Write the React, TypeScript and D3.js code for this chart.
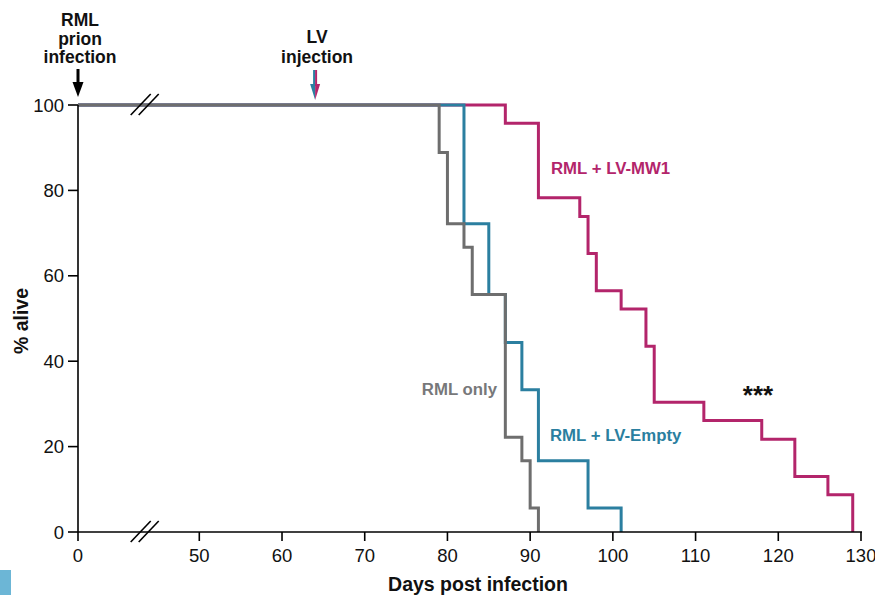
import React from "react";
import * as d3 from "d3";

const xTicks = [0, 50, 60, 70, 80, 90, 100, 110, 120, 130];
const yTicks = [0, 20, 40, 60, 80, 100];

const rmlDays = [0, 79, 80, 82, 83, 87, 89, 90, 91];
const rmlSurv = [100, 88.9, 72.2, 66.7, 55.6, 22.2, 16.7, 5.6, 0];
const emptyDays = [0, 82, 85, 87, 89, 91, 97, 101];
const emptySurv = [100, 72.2, 55.6, 44.4, 33.3, 16.7, 5.6, 0];
const mw1Days = [0, 87, 91, 96, 97, 98, 101, 104, 105, 111, 118, 122, 126, 129];
const mw1Surv = [100, 95.7, 78.3, 73.9, 65.2, 56.5, 52.2, 43.5, 30.4, 26.1, 21.7, 13.0, 8.7, 0];

const infectionDay = 0;
const lvDay = 64;
const breakDay = 27.5;

const GRAY = "#6e6e6e";
const GRAY_TXT = "#77787a";
const BLUE = "#2b7fa0";
const PINK = "#b3256b";
const FONT = "'Liberation Sans', Arial, Helvetica, sans-serif";

export default function App() {
  const x = d3.scaleLinear().domain([0, 50, 130]).range([78, 199.3, 861]);
  const y = d3.scaleLinear().domain([0, 100]).range([532, 105]);

  const line = d3
    .line<[number, number]>()
    .x((d) => x(d[0]))
    .y((d) => y(d[1]))
    .curve(d3.curveStepAfter);

  const series = [
    { days: mw1Days, surv: mw1Surv, color: PINK },
    { days: emptyDays, surv: emptySurv, color: BLUE },
    { days: rmlDays, surv: rmlSurv, color: GRAY },
  ];

  const bx = x(breakDay);
  const breakMarks = (cy: number, key: string) => (
    <g key={key} stroke="#000" strokeWidth={1.6}>
      <line x1={bx - 14} y1={cy + 10} x2={bx + 6} y2={cy - 11} />
      <line x1={bx - 6} y1={cy + 10} x2={bx + 14} y2={cy - 11} />
    </g>
  );

  const ax = x(infectionDay);
  const lx = x(lvDay);

  return (
    <svg
      width={875}
      height={595}
      style={{ position: "absolute", left: 0, top: 0, background: "#fff" }}
      fontFamily={FONT}
    >
      <rect x={0} y={570} width={11} height={25} fill="#6cb6d6" />

      {/* series */}
      {series.map((s, i) => (
        <path
          key={i}
          d={line(s.days.map((d, j) => [d, s.surv[j]] as [number, number])) || ""}
          fill="none"
          stroke={s.color}
          strokeWidth={3}
          strokeLinejoin="miter"
        />
      ))}

      {/* axes */}
      <line x1={x(0)} x2={x(130) + 1} y1={y(0)} y2={y(0)} stroke="#000" strokeWidth={1.6} />
      <line x1={x(0)} x2={x(0)} y1={y(100)} y2={y(0)} stroke="#000" strokeWidth={1.6} />
      {xTicks.map((t) => (
        <g key={"xt" + t}>
          <line x1={x(t)} x2={x(t)} y1={y(0)} y2={y(0) + 9} stroke="#000" strokeWidth={1.6} />
          <text x={x(t)} y={562} textAnchor="middle" fontSize={18.5} fill="#111">
            {t}
          </text>
        </g>
      ))}
      {yTicks.map((t) => (
        <g key={"yt" + t}>
          <line x1={x(0) - 10} x2={x(0)} y1={y(t)} y2={y(t)} stroke="#000" strokeWidth={1.6} />
          <text x={x(0) - 14} y={y(t) + 6.5} textAnchor="end" fontSize={18.5} fill="#111">
            {t}
          </text>
        </g>
      ))}
      {breakMarks(y(0), "b0")}
      {breakMarks(y(100), "b100")}

      <text x={478} y={591} textAnchor="middle" fontSize={19.5} fontWeight="bold" fill="#111">
        Days post infection
      </text>
      <text
        transform="translate(28,321) rotate(-90)"
        textAnchor="middle"
        fontSize={19.5}
        fontWeight="bold"
        fill="#111"
      >
        % alive
      </text>

      {/* RML prion infection annotation */}
      <g fontSize={17.5} fontWeight="bold" fill="#111" textAnchor="middle">
        <text x={ax + 2} y={26}>RML</text>
        <text x={ax + 2} y={44.5}>prion</text>
        <text x={ax + 2} y={63}>infection</text>
      </g>
      <rect x={ax - 1.5} y={69} width={3} height={15} fill="#000" />
      <polygon points={`${ax - 5.5},${82} ${ax + 5.5},${82} ${ax},${97}`} fill="#000" />

      {/* LV injection annotation */}
      <g fontSize={17.5} fontWeight="bold" fill="#111" textAnchor="middle">
        <text x={lx + 2} y={43}>LV</text>
        <text x={lx + 2} y={63}>injection</text>
      </g>
      <rect x={lx - 2} y={70} width={2} height={16} fill={BLUE} />
      <rect x={lx} y={70} width={2} height={16} fill={PINK} />
      <polygon points={`${lx - 5},${84} ${lx},${84} ${lx},${100}`} fill={BLUE} />
      <polygon points={`${lx},${84} ${lx + 5},${84} ${lx},${100}`} fill={PINK} />

      {/* labels */}
      <text x={551} y={174} fontSize={16.8} fontWeight="bold" fill={PINK}>
        RML + LV-MW1
      </text>
      <text x={550} y={441} fontSize={16.8} fontWeight="bold" fill={BLUE}>
        RML + LV-Empty
      </text>
      <text x={497} y={395} textAnchor="end" fontSize={16.8} fontWeight="bold" fill={GRAY_TXT}>
        RML only
      </text>
      <text x={758} y={404} textAnchor="middle" fontSize={26} fontWeight="bold" fill="#111">
        ***
      </text>
    </svg>
  );
}
